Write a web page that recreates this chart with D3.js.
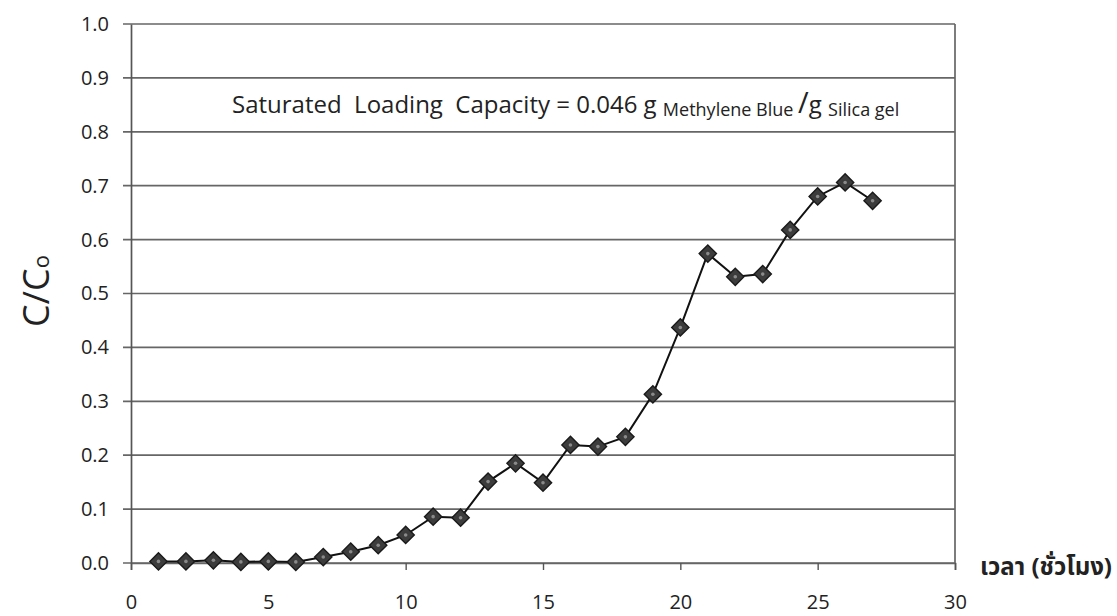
<!DOCTYPE html>
<html>
<head>
<meta charset="utf-8">
<script src="https://cdn.jsdelivr.net/npm/d3@7"></script>
<style>
  body { margin: 0; background: #fff; }
  svg { display: block; }
  text { font-family: "Open Sans", Lato, "Liberation Sans", sans-serif; fill: #222; }
</style>
</head>
<body>
<svg id="chart" width="1117" height="616"></svg>
<script>
const timeHours = [1,2,3,4,5,6,7,8,9,10,11,12,13,14,15,16,17,18,19,20,21,22,23,24,25,26,27];
const ratioCC0 = [0.003,0.003,0.005,0.002,0.003,0.002,0.011,0.021,0.033,0.052,0.086,0.084,0.151,0.185,0.149,0.219,0.216,0.234,0.313,0.437,0.574,0.531,0.536,0.618,0.680,0.706,0.672];
const xTicks = [0,5,10,15,20,25,30];
const yTicks = [0,0.1,0.2,0.3,0.4,0.5,0.6,0.7,0.8,0.9,1.0];
const xTitle = "เวลา (ชั่วโมง)";

const svg = d3.select("#chart");
const x = d3.scaleLinear().domain([0,30]).range([131,955]);
const y = d3.scaleLinear().domain([0,1]).range([563,24]);

// gridlines
svg.append("g").selectAll("line").data(yTicks).join("line")
  .attr("x1", 123).attr("x2", x(30))
  .attr("y1", d => y(d)).attr("y2", d => y(d))
  .attr("stroke", "#666").attr("stroke-width", 1.7);

// right border
svg.append("line").attr("x1", x(30)).attr("x2", x(30)).attr("y1", y(1)).attr("y2", y(0))
  .attr("stroke", "#666").attr("stroke-width", 1.7);

// y axis
const yAxis = svg.append("g").attr("transform", `translate(${x(0)},0)`)
  .call(d3.axisLeft(y).tickValues(yTicks).tickFormat(d3.format(".1f")).tickSize(0).tickPadding(22));
yAxis.select(".domain").attr("stroke", "#555").attr("stroke-width", 1.7);
yAxis.selectAll("text").style("font-size", "20px").attr("fill", "#222");

// x axis
const xAxis = svg.append("g").attr("transform", `translate(0,${y(0)})`)
  .call(d3.axisBottom(x).tickValues(xTicks).tickFormat(d3.format("d")).tickSize(7).tickPadding(25));
xAxis.select(".domain").attr("stroke", "#666").attr("stroke-width", 1.7);
xAxis.selectAll(".tick line").attr("stroke", "#555").attr("stroke-width", 1.4);
xAxis.selectAll("text").style("font-size", "20px").attr("fill", "#222");

// data line
const pts = timeHours.map((t,i) => [t, ratioCC0[i]]);
svg.append("path").datum(pts)
  .attr("fill", "none").attr("stroke", "#111").attr("stroke-width", 2)
  .attr("d", d3.line().x(d => x(d[0])).y(d => y(d[1])));

// diamond markers
const sym = d3.symbol().type(d3.symbolDiamond2).size(190);
svg.append("g").selectAll("path").data(pts).join("path")
  .attr("transform", d => `translate(${x(d[0])},${y(d[1])})`)
  .attr("d", sym)
  .attr("fill", "#3c3c3c").attr("stroke", "#1a1a1a").attr("stroke-width", 1.4);
svg.append("g").selectAll("circle").data(pts).join("circle")
  .attr("cx", d => x(d[0])).attr("cy", d => y(d[1])).attr("r", 1.8)
  .attr("fill", "#8a8a8a");

// annotation
const ann = svg.append("text").attr("x", 232).attr("y", 113)
  .attr("xml:space", "preserve").style("white-space", "pre").style("font-size", "24px");
ann.append("tspan").text("Saturated  Loading  Capacity = 0.046 g ");
ann.append("tspan").text("Methylene Blue ").style("font-size", "18px").attr("dy", 3);
ann.append("tspan").text("/").style("font-size", "29px").attr("dy", -3);
ann.append("tspan").text("g ").style("font-size", "24px");
ann.append("tspan").text("Silica gel").style("font-size", "18px").attr("dy", 3);

// y title
const yt = svg.append("text").attr("transform", "translate(49,291) rotate(-90)")
  .attr("text-anchor", "middle").style("font-size", "36px");
yt.append("tspan").text("C/C");
yt.append("tspan").text("o").style("font-size", "22px");

// x title
svg.append("text").attr("x", 1112).attr("y", 575).attr("text-anchor", "end")
  .style("font-family", "'Noto Sans Thai', 'Noto Serif Thai', 'Noto Sans', sans-serif")
  .style("font-size", "24px").style("font-weight", "bold").text(xTitle);
</script>
</body>
</html>
